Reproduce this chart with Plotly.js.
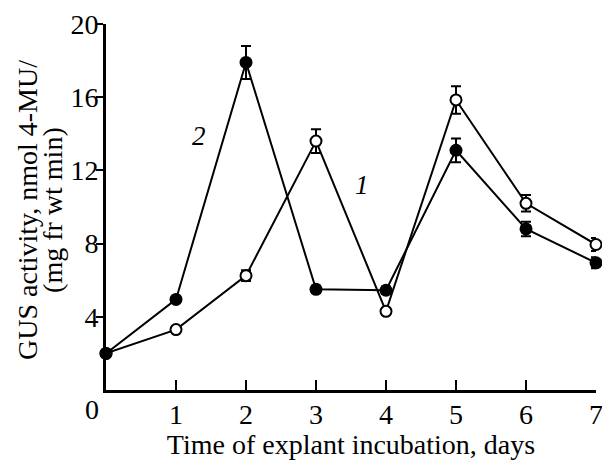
<!DOCTYPE html>
<html>
<head>
<meta charset="utf-8">
<script src="https://cdn.plot.ly/plotly-3.0.1.min.js"></script>
<style>html,body{margin:0;padding:0;background:#fff;}#chart{width:602px;height:460px;}</style>
</head>
<body>
<div id="chart"></div>
<script>
var days = [0, 1, 2, 3, 4, 5, 6, 7];
var series1 = [2.0, 3.3, 6.25, 13.6, 4.3, 15.85, 10.2, 7.95];   // open circles, curve 1
var series1Err = [0, 0.1, 0.3, 0.65, 0.15, 0.75, 0.45, 0.35];
var series2 = [2.0, 4.95, 17.9, 5.5, 5.45, 13.1, 8.8, 6.95];    // filled circles, curve 2
var series2Err = [0, 0.1, 0.9, 0.2, 0.2, 0.65, 0.4, 0.3];
var xTickVals = [1, 2, 3, 4, 5, 6, 7];
var xTickText = ['1', '2', '3', '4', '5', '6', '7'];
var yTickVals = [4, 8, 12, 16, 20];
var yTickText = ['4', '8', '12', '16', '20'];
var xTitle = 'Time of explant incubation, days';
var yTitleLine1 = 'GUS activity, nmol 4-MU/';
var yTitleLine2 = '(mg fr wt min)';
var curveLabels = [{text: '1', x: 3.66, y: 11.2}, {text: '2', x: 1.33, y: 13.9}];

var FONT = 'Liberation Serif, Times New Roman, serif';
var FS = 28;

var trace1 = {
  x: days, y: series1, type: 'scatter', mode: 'lines+markers',
  line: {color: '#000', width: 2},
  marker: {symbol: 'circle', size: 11, color: '#fff', line: {color: '#000', width: 2}},
  error_y: {type: 'data', array: series1Err, visible: true, color: '#000', thickness: 2, width: 5},
  cliponaxis: false, showlegend: false
};
var trace2 = {
  x: days, y: series2, type: 'scatter', mode: 'lines+markers',
  line: {color: '#000', width: 2},
  marker: {symbol: 'circle', size: 13, color: '#000', line: {color: '#000', width: 0}},
  error_y: {type: 'data', array: series2Err, visible: true, color: '#000', thickness: 2, width: 5},
  cliponaxis: false, showlegend: false
};

var annotations = curveLabels.map(function (c) {
  return {x: c.x, y: c.y, xref: 'x', yref: 'y', text: '<i>' + c.text + '</i>', showarrow: false,
          font: {family: FONT, size: 27, color: '#000'}, xanchor: 'center', yanchor: 'middle'};
});
annotations.push({x: 0, y: 0, xref: 'x', yref: 'y', text: '0', showarrow: false,
  xshift: -14, yshift: -19, font: {family: FONT, size: FS, color: '#000'}, xanchor: 'center', yanchor: 'middle'});
annotations.push({x: 0, y: 0.492, xref: 'paper', yref: 'paper', text: yTitleLine1, showarrow: false, textangle: -90,
  xshift: -78, font: {family: FONT, size: FS, color: '#000'}, xanchor: 'center', yanchor: 'middle'});
annotations.push({x: 0, y: 0.492, xref: 'paper', yref: 'paper', text: yTitleLine2, showarrow: false, textangle: -90,
  xshift: -53, font: {family: FONT, size: FS, color: '#000'}, xanchor: 'center', yanchor: 'middle'});

var layout = {
  width: 602, height: 460,
  margin: {l: 106, r: 6, t: 24, b: 70, pad: 0},
  paper_bgcolor: '#fff', plot_bgcolor: '#fff',
  font: {family: FONT, size: FS, color: '#000'},
  xaxis: {
    range: [0, 7], tickvals: xTickVals, ticktext: xTickText,
    ticks: 'inside', ticklen: 10, tickwidth: 2, tickcolor: '#000',
    showline: true, linecolor: '#000', linewidth: 3, showgrid: false, zeroline: false,
    ticklabeloverflow: 'allow', ticklabelstandoff: -3,
    tickfont: {family: FONT, size: FS, color: '#000'},
    title: {text: xTitle, font: {family: FONT, size: FS, color: '#000'}, standoff: 6}
  },
  yaxis: {
    range: [0, 20], tickvals: yTickVals, ticktext: yTickText,
    ticks: 'outside', ticklen: 7, tickwidth: 2, tickcolor: '#000',
    showline: true, linecolor: '#000', linewidth: 3, showgrid: false, zeroline: false,
    ticklabelstandoff: -8, ticklabeloverflow: 'allow',
    tickfont: {family: FONT, size: FS, color: '#000'}
  },
  annotations: annotations
};

Plotly.newPlot('chart', [trace1, trace2], layout, {staticPlot: true, displayModeBar: false});
</script>
</body>
</html>
